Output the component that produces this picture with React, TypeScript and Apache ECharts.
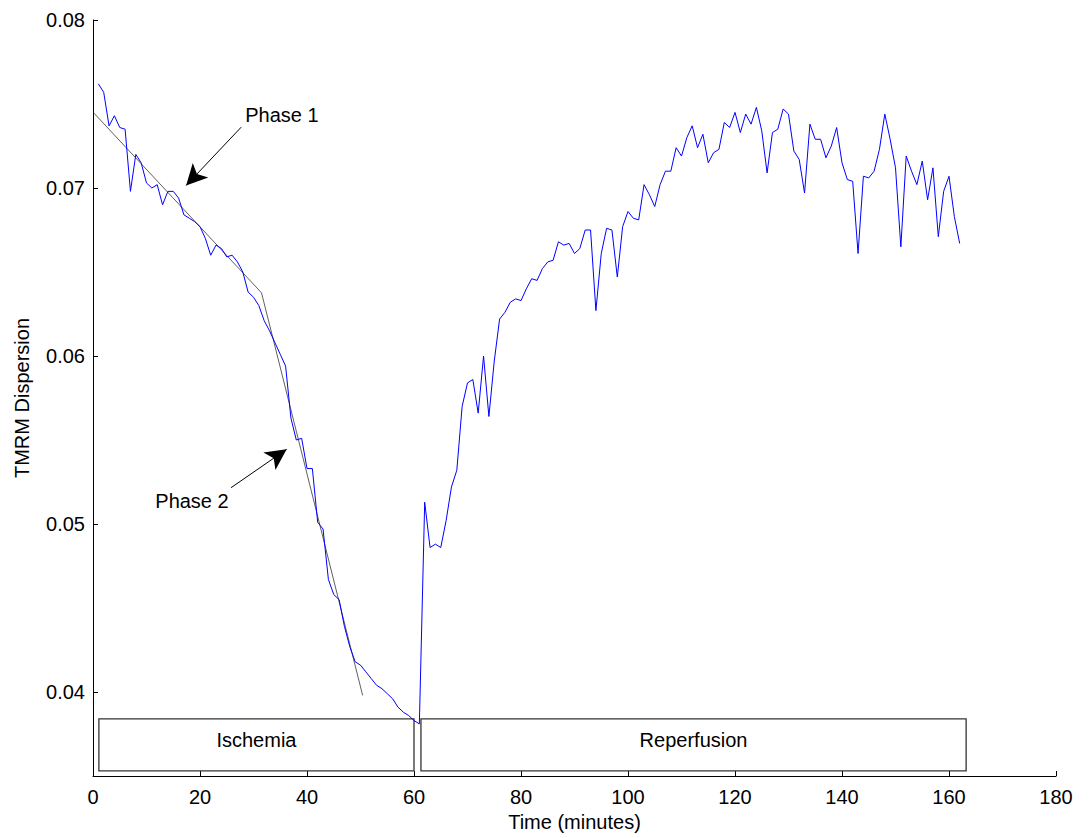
import React, { useEffect, useRef } from "react";
import * as echarts from "echarts";

// TMRM dispersion sampled once per minute, starting at minute 1
const firstMinute = 1;
const ischemiaValues = [
  0.0762, 0.0757, 0.0737, 0.0743, 0.0736, 0.0735, 0.0698, 0.072, 0.0715, 0.0703,
  0.07, 0.0702, 0.069, 0.0698, 0.0698, 0.0694, 0.0684, 0.0682, 0.068, 0.0677,
  0.067, 0.066, 0.0666, 0.0664, 0.0659, 0.066, 0.0656, 0.065, 0.0638, 0.0635,
  0.063, 0.0621, 0.0615, 0.0608, 0.0601, 0.0594, 0.0563, 0.055, 0.0551, 0.0533,
  0.0533, 0.0501, 0.0497, 0.0467, 0.0458, 0.0455, 0.0439, 0.0427, 0.0418, 0.0416,
  0.0412, 0.0408, 0.0404, 0.0402, 0.0399, 0.0396, 0.0391, 0.0388, 0.0386, 0.0383,
  0.0381,
];
const reperfusionValues = [
  0.0513, 0.0486, 0.0488, 0.0486, 0.0502, 0.0522, 0.0532, 0.057, 0.0584, 0.0586,
  0.0566, 0.06, 0.0564, 0.0597, 0.0622, 0.0626, 0.0632, 0.0634, 0.0633, 0.064,
  0.0646, 0.0645, 0.0652, 0.0656, 0.0657, 0.0668, 0.0666, 0.0667, 0.0661, 0.0664,
  0.0675, 0.0675, 0.0627, 0.0661, 0.0676, 0.0675, 0.0647, 0.0677, 0.0686, 0.0682,
  0.0681, 0.0702, 0.0696, 0.0689, 0.0702, 0.071, 0.071, 0.0724, 0.0719, 0.073,
  0.0737, 0.0724, 0.0732, 0.0715, 0.0721, 0.0723, 0.0739, 0.0736, 0.0745, 0.0733,
  0.0744, 0.0738, 0.0748, 0.0734, 0.0709, 0.0733, 0.0735, 0.0747, 0.0744, 0.0722,
  0.0717, 0.0697, 0.0738, 0.0729, 0.0729, 0.0718, 0.0725, 0.0736, 0.0715, 0.0705,
  0.0704, 0.0661, 0.0707, 0.0706, 0.071, 0.0723, 0.0744, 0.0729, 0.0712, 0.0665,
  0.0719, 0.071, 0.0702, 0.0716, 0.0693, 0.0712, 0.0671, 0.0698, 0.0707, 0.0683,
  0.0667,
];

// two-phase linear fit (breakpoint in the middle)
const fitTimes = [0.2, 31.5, 50.4];
const fitValues = [0.07445, 0.06376, 0.0398];

const yTickValues = [0.04, 0.05, 0.06, 0.07, 0.08];

const phaseNames = ["Ischemia", "Reperfusion"];
const phaseStarts = [1.1, 61.3];
const phaseEnds = [60, 163.2];
const phaseBandTop = 0.0384;
const phaseBandBottom = 0.0353;

const noteTexts = ["Phase 1", "Phase 2"];
const noteTextAt = [
  [35.3, 0.07434],
  [18.5, 0.05139],
];
const noteArrowTail = [
  [27.7, 0.07362],
  [25.8, 0.05216],
];
const noteArrowTip = [
  [17.4, 0.07015],
  [36.2, 0.05445],
];

export default function App() {
  const ref = useRef<HTMLDivElement>(null);

  useEffect(() => {
    document.body.style.margin = "0";
    if (!ref.current) return;
    const chart = echarts.init(ref.current, null, { renderer: "svg" });

    const allValues = ischemiaValues.concat(reperfusionValues);
    const mainData = allValues.map((v, i) => [firstMinute + i, v]);
    const fitData = fitTimes.map((t, i) => [t, fitValues[i]]);
    const font = "'Liberation Sans', Arial, Helvetica, sans-serif";

    const option: any = {
      animation: false,
      backgroundColor: "#ffffff",
      textStyle: { fontFamily: font },
      grid: { left: 93, right: 34, top: 20, bottom: 62, containLabel: false },
      xAxis: {
        type: "value",
        min: 0,
        max: 180,
        interval: 20,
        name: "Time (minutes)",
        nameLocation: "middle",
        nameGap: 36,
        nameTextStyle: { fontSize: 20, color: "#000", fontFamily: font },
        axisLine: { show: true, onZero: false, lineStyle: { color: "#000", width: 1 } },
        axisTick: { show: true, inside: true, length: 5, lineStyle: { color: "#000" } },
        axisLabel: { fontSize: 20, color: "#000", margin: 11, fontFamily: font },
        splitLine: { show: false },
      },
      yAxis: {
        type: "value",
        min: 0.035,
        max: 0.08,
        name: "TMRM Dispersion",
        nameLocation: "middle",
        nameGap: 61,
        nameTextStyle: { fontSize: 20, color: "#000", fontFamily: font },
        axisLine: { show: true, onZero: false, lineStyle: { color: "#000", width: 1 } },
        axisTick: {
          show: true,
          inside: true,
          length: 5,
          customValues: yTickValues,
          lineStyle: { color: "#000" },
        },
        axisLabel: {
          customValues: yTickValues,
          formatter: (v: number) => v.toFixed(2),
          fontSize: 20,
          color: "#000",
          margin: 8,
          fontFamily: font,
        },
        splitLine: { show: false },
      },
      series: [
        {
          name: "TMRM",
          type: "line",
          data: mainData,
          showSymbol: false,
          symbol: "none",
          lineStyle: { color: "#0000ff", width: 1 },
          z: 3,
        },
        {
          name: "fit",
          type: "line",
          data: fitData,
          showSymbol: false,
          symbol: "none",
          lineStyle: { color: "#606060", width: 1 },
          z: 2,
          markArea: {
            silent: true,
            itemStyle: { color: "rgba(0,0,0,0)", borderColor: "#333", borderWidth: 1.3 },
            label: {
              show: true,
              position: "inside",
              offset: [0, -5],
              fontSize: 20,
              color: "#000",
              fontFamily: font,
            },
            data: phaseNames.map((n, i) => [
              { name: n, coord: [phaseStarts[i], phaseBandTop] },
              { coord: [phaseEnds[i], phaseBandBottom] },
            ]),
          },
          markLine: {
            silent: true,
            symbol: ["none", "arrow"],
            symbolSize: [16, 21],
            label: { show: false },
            lineStyle: { color: "#000", width: 1, type: "solid" },
            data: noteTexts.map((_, i) => [
              { coord: noteArrowTail[i] },
              { coord: noteArrowTip[i] },
            ]),
          },
          markPoint: {
            silent: true,
            symbol: "rect",
            symbolSize: 1,
            itemStyle: { color: "rgba(0,0,0,0)" },
            label: { show: true, position: "inside", fontSize: 20, color: "#000", fontFamily: font },
            data: noteTexts.map((t, i) => ({
              coord: noteTextAt[i],
              value: t,
              label: { formatter: t },
            })),
          },
        },
      ],
    };

    chart.setOption(option);
    return () => chart.dispose();
  }, []);

  return <div ref={ref} style={{ width: 1090, height: 838 }} />;
}
